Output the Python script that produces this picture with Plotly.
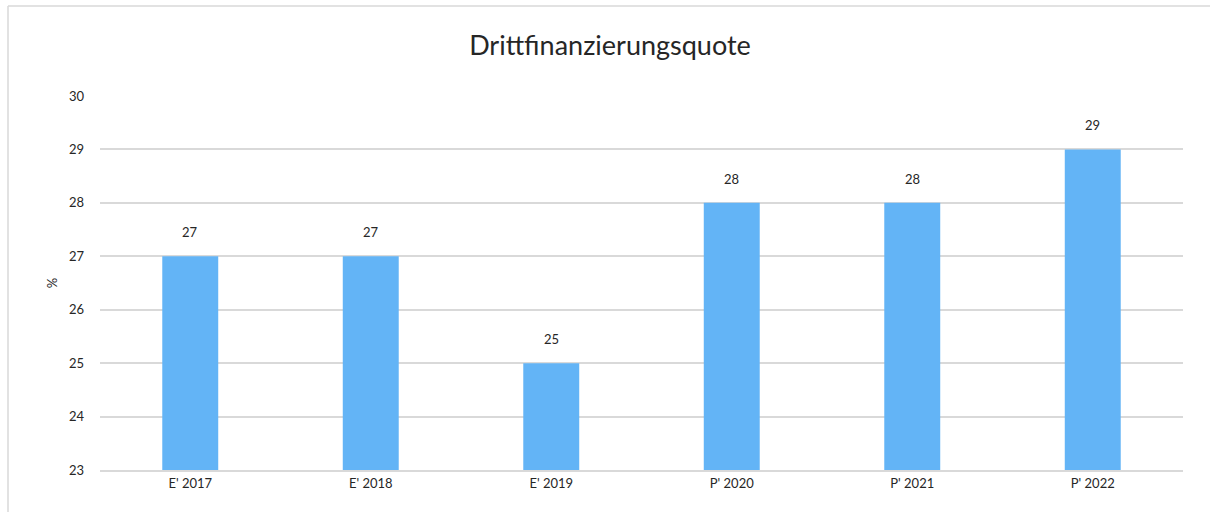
import plotly.graph_objects as go

# Chart data
categories = ["E' 2017", "E' 2018", "E' 2019", "P' 2020", "P' 2021", "P' 2022"]
values = [27, 27, 25, 28, 28, 29]
y_ticks = [23, 24, 25, 26, 27, 28, 29, 30]

W, H = 1210, 512
ML, MR, MT, MB = 100, 27, 96, 42
plot_w = W - ML - MR
plot_h = H - MT - MB

font_family = "Lato, 'Noto Sans', sans-serif"
text_color = "#262626"

fig = go.Figure(
    go.Bar(
        x=categories,
        y=values,
        marker=dict(color="#63B4F6", line=dict(width=0)),
        hoverinfo="x+y",
    )
)

# Value labels above each bar
for c, v in zip(categories, values):
    fig.add_annotation(
        x=c, y=v, text=str(v), showarrow=False,
        yanchor="middle", yshift=24,
        font=dict(size=13, color=text_color, family=font_family),
    )

# Light frame around the chart area: left and top edges
fx0 = (8 - ML) / plot_w
fy1 = 1 + (MT - 6) / plot_h
frame = dict(color="#D9D9D9", width=1.5)
fig.add_shape(type="line", xref="paper", yref="paper",
              x0=fx0, x1=fx0, y0=-MB / plot_h - 0.1, y1=fy1, line=frame, layer="below")
fig.add_shape(type="line", xref="paper", yref="paper",
              x0=fx0, x1=(W + 50 - ML) / plot_w, y0=fy1, y1=fy1, line=frame, layer="below")

fig.update_layout(
    width=W, height=H,
    margin=dict(l=ML, r=MR, t=MT, b=MB),
    paper_bgcolor="white", plot_bgcolor="white",
    bargap=0.69,
    showlegend=False,
    title=dict(
        text="Drittfinanzierungsquote",
        x=610 / W, xref="container", xanchor="center",
        y=1 - 46 / H, yanchor="middle",
        font=dict(size=27, color=text_color, family=font_family),
    ),
    font=dict(family=font_family, color=text_color, size=13),
    xaxis=dict(
        showgrid=False, showline=True, linecolor="#D9D9D9", linewidth=2,
        ticks="", tickfont=dict(size=13, color=text_color),
        fixedrange=True,
    ),
    yaxis=dict(
        range=[23, 30], tickvals=y_ticks, showgrid=True,
        gridcolor="#D9D9D9", gridwidth=1.5, zeroline=False,
        showline=False, ticks="", ticklabelstandoff=15,
        tickfont=dict(size=13, color=text_color),
        title=dict(text="%", font=dict(size=13, color=text_color), standoff=8),
        fixedrange=True,
    ),
)

fig.write_html("out.html", config={"displayModeBar": False})
